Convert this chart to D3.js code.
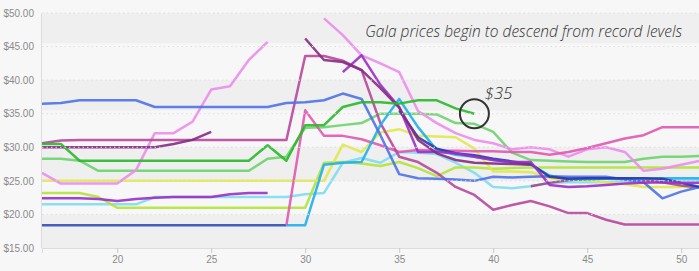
<!DOCTYPE html>
<html><head><meta charset="utf-8">
<script src="https://cdn.jsdelivr.net/npm/d3@7"></script>
<style>
html,body{margin:0;padding:0;background:#f7f7f7;}
svg{display:block;}
</style></head>
<body><svg id="chart" width="699" height="271"></svg>
<script>
const weeks = [16,17,18,19,20,21,22,23,24,25,26,27,28,29,30,31,32,33,34,35,36,37,38,39,40,41,42,43,44,45,46,47,48,49,50,51];
const xTicks = [20,25,30,35,40,45,50];
const yTicks = [15,20,25,30,35,40,45,50];
const _ = null;

const blue      = [36.5,36.6,37,37,37,37,36,36,36,36,36,36,36,36.6,36.7,37,38,37.2,31.8,26,25.4,25.3,25.2,25,25.6,25.5,25.6,25.7,25.6,25.6,25.6,25.2,24.8,22.4,23.4,24.1];
const green     = [30.5,30.5,28,28,28,28,28,28,28,28,28,28,30.3,28,33.3,33.3,36,36.7,36.7,36.5,37,37,35.8,35,_,_,_,_,_,_,_,_,_,_,_,_];
const lightGreen= [28.3,28.3,28,26.5,26.5,26.5,26.5,26.5,26.5,26.5,26.5,26.5,28.3,28.6,32.9,33,33.3,33.6,35,35,35,34.9,33.6,33.5,32.3,29.2,28.1,28,27.9,27.8,27.8,27.8,28.3,28.6,28.6,28.7];
const yellow    = [25,25,25,25,25,25,25,25,25,25,25,25,25,25,25,25,30.4,29.3,32.2,32.7,31.7,31.6,31.5,29.8,26.4,26.4,26.3,25.4,25.1,25,24.8,24.5,24.1,24.1,24.1,24.1];
const lime      = [23.2,23.2,23.2,22.6,21,21,21,21,21,21,21,21,21,21,21,27.7,27.8,27.6,27.2,27.8,26.9,25.7,27,27,26.8,26.9,27,27,27,27,27,27,27,27,27,27];
const lightCyan = [21.5,21.5,21.5,21.5,21.5,21.5,22.6,22.6,22.6,22.6,22.6,22.6,22.6,22.6,23,23.2,27.7,28.4,27.7,29.3,29.2,29,27.7,26.2,24.1,23.9,24.2,24.7,24.8,24.8,24.8,25,25.1,25.1,25.1,25.1];
const skyBlue   = [_,_,_,_,_,_,_,_,_,_,_,_,_,18.4,18.4,27.4,27.7,27.8,33.3,37.2,33,29.6,28.9,28.6,28.1,27.7,27.4,25.8,25.2,25.2,25.3,25.3,25.3,25.4,25.4,25.4];
const darkBlue  = [18.4,18.4,18.4,18.4,18.4,18.4,18.4,18.4,18.4,18.4,18.4,18.4,18.4,18.4,_,_,_,_,_,_,_,_,_,_,_,_,_,_,_,_,_,_,_,_,_,_];
const orchid    = [26.2,24.6,24.6,24.6,24.6,26.6,32.1,32.1,33.8,38.6,39.1,43,45.7,_,_,49.2,46.7,43.7,42.5,41.2,35.4,33.6,32.1,31.1,30.6,29.7,30,29.7,28.6,29.7,30,29.3,26.5,26.8,27.4,28];
const hotPink   = [_,_,_,_,_,_,_,_,_,_,_,_,_,18.4,35.5,31.7,31.7,31.2,30.3,29.3,29.6,29.5,29.5,29.4,29.4,29.3,29.3,28.9,29.3,29.9,30.6,31.3,31.8,33,33,33];
const magenta   = [30.6,31,31.1,31.1,31.1,31.1,31.1,31.1,31.1,31.1,31.1,31.1,31.1,31.1,43.6,43.6,42.9,41.5,33.6,28.6,27.8,26.2,24.1,22.9,20.7,21.4,22,21.2,20.2,20.2,19.2,18.5,18.5,18.5,18.5,18.5];
const darkPurple= [30,30,30,30,30,30,30,30.5,31.1,32.3,_,_,_,_,46.2,43,42.7,41.5,38.8,35.9,31.1,29.1,28.1,27.7,27.6,27.5,27.4,_,_,_,_,_,_,_,_,_];
const violet    = [22.4,22.4,22.4,22.3,22,22.3,22.5,22.6,22.6,22.6,23,23.2,23.2,_,_,_,41.2,43.7,39.3,36,29.3,29.3,29.1,28.6,28.1,27.8,27.8,24.4,24.1,24.2,24.4,24.6,24.7,24.8,24.7,24.7];
const navy      = [_,_,_,_,_,_,_,_,_,_,_,_,_,_,_,_,_,_,_,35.5,31.5,29.8,29.1,28.8,28.3,27.9,27.5,25.6,25.3,25.4,25.4,25.4,25.4,25.3,24.7,24.1];
const mauve     = [_,_,_,_,_,_,_,_,_,_,_,_,_,_,_,_,_,_,_,_,_,_,_,_,_,_,24.2,24.7,25.1,25.3,25.4,25.4,25.1,24.8,24.3,24.0];

const seriesList = [
  {name:"darkBlue", values:darkBlue, color:"#2f4fb5"},
  {name:"lightCyan", values:lightCyan, color:"#80dcef"},
  {name:"lime", values:lime, color:"#b3e33a"},
  {name:"yellow", values:yellow, color:"#e0e84c"},
  {name:"lightGreen", values:lightGreen, color:"#6cd36c"},
  {name:"mauve", values:mauve, color:"#a2498c"},
  {name:"orchid", values:orchid, color:"#ec8cec"},
  {name:"hotPink", values:hotPink, color:"#e058b0"},
  {name:"magenta", values:magenta, color:"#b6479c"},
  {name:"skyBlue", values:skyBlue, color:"#20aef0"},
  {name:"blue", values:blue, color:"#4d72e6"},
  {name:"navy", values:navy, color:"#2b36a8"},
  {name:"violet", values:violet, color:"#9a2ec6"},
  {name:"darkPurple", values:darkPurple, color:"#862a82"},
  {name:"green", values:green, color:"#2ab82a"}
];

const svg = d3.select("#chart");
const x = d3.scaleLinear().domain([16,51]).range([42,700]);
const y = d3.scaleLinear().domain([15,50]).range([248,13]);

// bands
const bands = [[45.5,50],[35.5,40],[25,30],[15,20]];
svg.append("g").selectAll("rect").data(bands).join("rect")
  .attr("x", x(16)).attr("width", x(51)-x(16))
  .attr("y", d=>y(d[1])).attr("height", d=>y(d[0])-y(d[1]))
  .attr("fill","#efefef");

// lines
const line = d3.line()
  .defined(d=>d.v!=null)
  .x(d=>x(d.w)).y(d=>y(d.v));
const lg = svg.append("g");
seriesList.forEach(s=>{
  lg.append("path")
    .datum(weeks.map((w,i)=>({w:w, v:s.values[i]})))
    .attr("d", line)
    .attr("fill","none")
    .attr("stroke", s.color)
    .attr("stroke-width", 2.5)
    .attr("stroke-linejoin","round")
    .attr("stroke-opacity", 0.9);
});

// gridlines (dotted, over lines)
svg.append("g").selectAll("line").data(yTicks.slice(1)).join("line")
  .attr("x1", x(16)).attr("x2", x(51))
  .attr("y1", d=>y(d)).attr("y2", d=>y(d))
  .attr("stroke","#dedede").attr("stroke-width",1)
  .attr("stroke-dasharray","1.5,3");

// axes
const yAxis = d3.axisLeft(y).tickValues(yTicks).tickFormat(d=>"$"+d3.format(".2f")(d)).tickSize(0).tickPadding(7);
const gy = svg.append("g").attr("transform",`translate(${x(16)-1},0)`).call(yAxis);
gy.select(".domain").attr("stroke","#dcdcdc");
gy.selectAll("text").attr("fill","#8a8a8a").style("font-family","'Liberation Sans Narrow','Arial Narrow',sans-serif").style("font-size","10px");

const xAxis = d3.axisBottom(x).tickValues(xTicks).tickFormat(d3.format("d")).tickSize(5).tickPadding(3);
const gx = svg.append("g").attr("transform",`translate(0,${y(15)})`).call(xAxis);
gx.select(".domain").attr("stroke","#dcdcdc");
gx.selectAll(".tick line").attr("stroke","#c8c8c8");
gx.selectAll("text").attr("fill","#8a8a8a").style("font-family","'Liberation Sans Narrow','Arial Narrow',sans-serif").style("font-size","10px");

// annotation
const endIdx = weeks.indexOf(39);
const cx = x(39), cy = y(green[endIdx]);
svg.append("circle").attr("cx",cx).attr("cy",cy).attr("r",14.5)
  .attr("fill","none").attr("stroke","#333").attr("stroke-width",2);
svg.append("text").attr("x", cx+10).attr("y", cy-15)
  .text("$35").attr("fill","#333")
  .style("font-family","'Open Sans',sans-serif").style("font-style","italic").style("font-weight","300").style("font-size","17px");
svg.append("text").attr("x",682).attr("y",37).attr("text-anchor","end")
  .text("Gala prices begin to descend from record levels")
  .attr("fill","#333")
  .style("font-family","'Open Sans',sans-serif").style("font-style","italic").style("font-weight","300").style("font-size","15.5px");
</script></body></html>
